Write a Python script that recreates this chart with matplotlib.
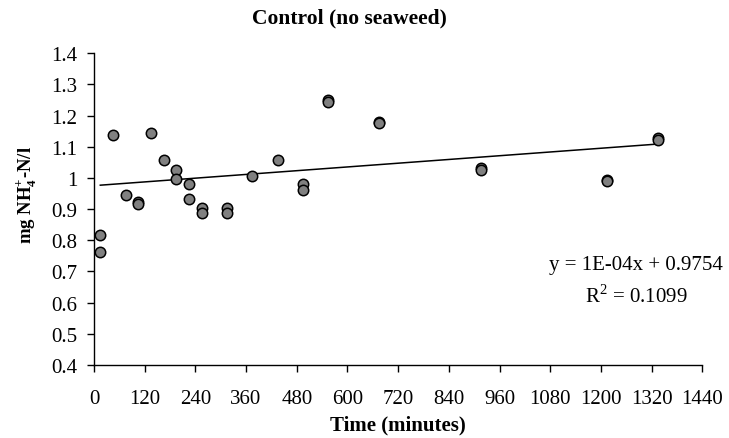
import matplotlib
matplotlib.use("Agg")
import matplotlib.pyplot as plt
import numpy as np

# sampling times (minutes) and NH4+-N concentrations (mg/l)
time_min = [15, 15, 45, 75, 105, 105, 135, 165, 195, 195, 225, 225,
            255, 255, 315, 315, 375, 435, 495, 495, 555, 555, 675, 675,
            915, 915, 1215, 1215, 1335, 1335]
nh4 = [0.818, 0.763, 1.139, 0.946, 0.922, 0.915, 1.143, 1.057, 1.024, 0.998,
       0.982, 0.934, 0.905, 0.889, 0.905, 0.889, 1.007, 1.057, 0.981, 0.963,
       1.249, 1.243, 1.179, 1.175, 1.032, 1.025, 0.995, 0.990, 1.128, 1.122]

slope = 1e-4
intercept = 0.9754
r2 = 0.1099

xticks = np.arange(0, 1441, 120)
yticks = np.arange(0.4, 1.41, 0.1)

plt.rcParams["font.family"] = ["Liberation Serif", "DejaVu Serif"]
plt.rcParams["mathtext.fontset"] = "custom"
plt.rcParams["mathtext.rm"] = "Liberation Serif"
plt.rcParams["mathtext.bf"] = "Liberation Serif:bold"

fig = plt.figure(figsize=(7.29, 4.39), dpi=100)
ax = fig.add_axes([0.1289, 0.1663, 0.8345, 0.7100])

x = np.array(time_min)
y = np.array(nh4)
xl = np.array([x.min(), x.max()])
ax.plot(xl, slope * xl + intercept, color="black", linewidth=1.1, zorder=2)
ax.scatter(x, y, s=56, c="#808080", edgecolors="black", linewidths=1.1, zorder=3)

ax.set_xlim(0, 1440)
ax.set_ylim(0.4, 1.4)
ax.set_xticks(xticks)
ax.set_yticks(yticks)
ax.set_yticklabels([f"{v:g}" for v in np.round(yticks, 1)])
ax.tick_params(direction="out", length=5, width=1, labelsize=15)
ax.tick_params(axis="x", pad=12)
ax.tick_params(axis="y", pad=7)

for s in ["top", "right"]:
    ax.spines[s].set_visible(False)
for s in ["left", "bottom"]:
    ax.spines[s].set_linewidth(1.0)

fig.text(398 / 729, 1 - 425 / 439, "Time (minutes)", ha="center", va="center",
         fontsize=15, fontweight="bold")
fig.text(27 / 729, 1 - 195 / 439, r"mg NH$_\mathbf{4}^\mathbf{+}$-N/l", ha="center",
         va="center", rotation=90, fontsize=13.5, fontweight="bold")

fig.text(349 / 729, 1 - 18 / 439, "Control (no seaweed)", ha="center", va="center",
         fontsize=15.5, fontweight="bold")

ax.text(1283, 0.722, f"y = 1E-04x + {intercept}", ha="center", va="center", fontsize=15)
ax.text(1283, 0.624, f"R$^2$ = {r2}", ha="center", va="center", fontsize=15)

fig.savefig("out.png", dpi=100)
